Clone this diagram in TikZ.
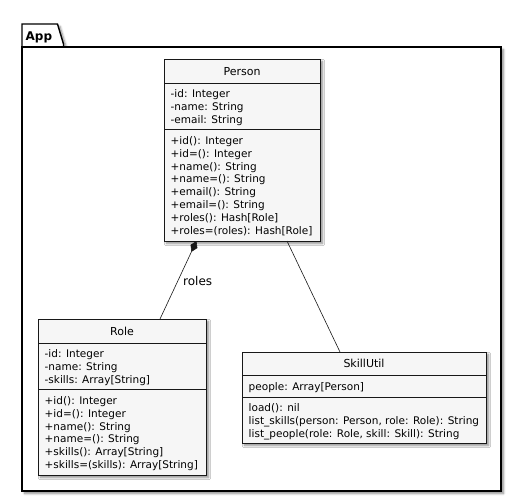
\documentclass[tikz,border=0pt]{standalone}
\usepackage{fontspec}
\setmainfont{DejaVu Sans}
\usetikzlibrary{arrows.meta,shadows.blur}
\definecolor{boxfill}{HTML}{F6F6F6}
\definecolor{boxline}{HTML}{181818}
\tikzset{
  shade3/.style={blur shadow={shadow xshift=2.5pt, shadow yshift=-2.5pt, shadow blur steps=6, shadow opacity=45}},
  classbox/.style={draw=boxline, line width=0.9pt, fill=boxfill, rectangle, inner sep=0pt, outer sep=0pt, anchor=north west, shade3},
  member/.style={anchor=base west, inner sep=0pt, font=\fontsize{10.5}{12}\selectfont, text=black},
  cname/.style={anchor=base, inner sep=0pt, font=\fontsize{11}{13}\selectfont, text=black},
  sepline/.style={draw=boxline, line width=0.9pt},
  assoc/.style={draw=boxline, line width=0.6pt},
  pkgline/.style={draw=black, line width=1.4pt, fill=white, shade3},
}
\begin{document}
\begin{tikzpicture}[x=1pt,y=-1pt]
\useasboundingbox (0,0) rectangle (512,503);
% package frame
\draw[pkgline] (22,47) -- (22,24) -- (57.5,24) -- (63.5,44) -- (63.5,47);
\draw[pkgline] (22,47) rectangle (501,491);
\node[anchor=base west, inner sep=0pt, font=\bfseries\fontsize{12}{14}\selectfont] (app) at (25.5,40.5) {App};

% Person
\node[classbox, minimum width=156pt, minimum height=182pt] (person) at (164,59) {};
\draw[sepline] (164,83) -- (320,83);
\draw[sepline] (164,129) -- (320,129);
\node[cname] (personname) at (242,75.2) {Person};
\node[member] (pa1) at (170.5,97.8) {-id: Integer};
\node[member] (pa2) at (170.5,110.6) {-name: String};
\node[member] (pa3) at (170.5,123.4) {-email: String};
\node[member] (pm1) at (170.5,144.4) {+id(): Integer};
\node[member] (pm2) at (170.5,157.2) {+id=(): Integer};
\node[member] (pm3) at (170.5,170.0) {+name(): String};
\node[member] (pm4) at (170.5,182.8) {+name=(): String};
\node[member] (pm5) at (170.5,195.6) {+email(): String};
\node[member] (pm6) at (170.5,208.4) {+email=(): String};
\node[member] (pm7) at (170.5,221.2) {+roles(): Hash[Role]};
\node[member] (pm8) at (170.5,234.0) {+roles=(roles): Hash[Role]};

% Role
\node[classbox, minimum width=168pt, minimum height=156pt] (role) at (38,319) {};
\draw[sepline] (38,343) -- (206,343);
\draw[sepline] (38,389) -- (206,389);
\node[cname] (rolename) at (122,335.5) {Role};
\node[member] (ra1) at (44.5,357.8) {-id: Integer};
\node[member] (ra2) at (44.5,370.6) {-name: String};
\node[member] (ra3) at (44.5,383.4) {-skills: Array[String]};
\node[member] (rm1) at (44.5,404.4) {+id(): Integer};
\node[member] (rm2) at (44.5,417.2) {+id=(): Integer};
\node[member] (rm3) at (44.5,430.0) {+name(): String};
\node[member] (rm4) at (44.5,442.8) {+name=(): String};
\node[member] (rm5) at (44.5,455.6) {+skills(): Array[String]};
\node[member] (rm6) at (44.5,468.4) {+skills=(skills): Array[String]};

% SkillUtil
\node[classbox, minimum width=244pt, minimum height=91pt] (skill) at (242,352) {};
\draw[sepline] (242,375) -- (486,375);
\draw[sepline] (242,397) -- (486,397);
\node[cname] (skillname) at (364,367.2) {SkillUtil};
\node[member] (sa1) at (248.5,390.2) {people: Array[Person]};
\node[member] (sm1) at (248.5,411.4) {load(): nil};
\node[member] (sm2) at (248.5,424.2) {list\_skills(person: Person, role: Role): String};
\node[member] (sm3) at (248.5,437.0) {list\_people(role: Role, skill: Skill): String};

% connectors
\coordinate (pr) at ([xshift=32.5pt]person.south west);
\coordinate (ro) at ([xshift=122pt]role.north west);
\coordinate (ps) at ([xshift=123pt]person.south west);
\coordinate (sk) at ([xshift=98pt]skill.north west);
\draw[assoc, {Diamond[length=12pt,width=7.5pt]}-] (pr) -- (ro);
\draw[assoc] (ps) -- (sk);
\node[anchor=base west, inner sep=0pt, font=\fontsize{12}{14}\selectfont] (lbl) at (183,285.5) {roles};
\end{tikzpicture}
\end{document}
